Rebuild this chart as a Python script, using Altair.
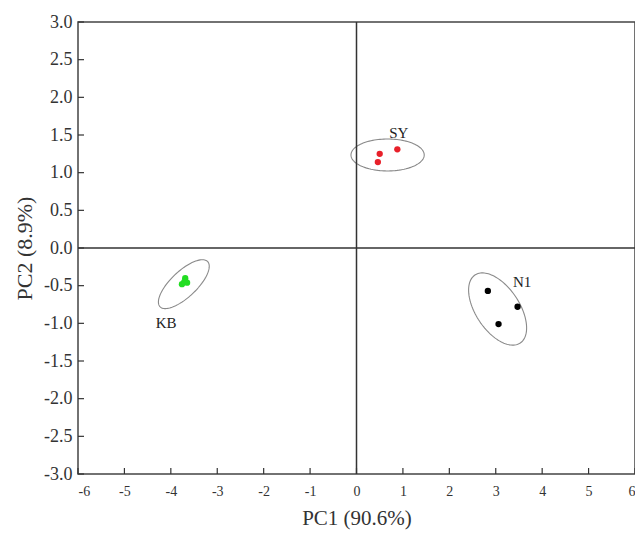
import altair as alt
import pandas as pd
import numpy as np

# sample scores
groups = ["SY", "SY", "SY", "KB", "KB", "KB", "KB", "N1", "N1", "N1"]
pc1 = [0.50, 0.46, 0.88, -3.69, -3.76, -3.65, -3.71, 2.83, 3.47, 3.06]
pc2 = [1.25, 1.14, 1.31, -0.40, -0.48, -0.46, -0.45, -0.57, -0.78, -1.01]

# group labels
label_text = ["SY", "KB", "N1"]
label_x = [0.91, -4.10, 3.57]
label_y = [1.53, -1.00, -0.45]

# confidence ellipses: centre and conjugate half-axis vectors (data units)
ell_group = ["SY", "KB", "N1"]
ell_cx = [0.67, -3.72, 3.04]
ell_cy = [1.235, -0.48, -0.81]
ell_ux = [0.789, 0.514, 0.489]
ell_uy = [0.0, 0.299, -0.451]
ell_vx = [0.0, -0.189, 0.389]
ell_vy = [0.212, 0.126, 0.163]

x_ticks = [-6, -5, -4, -3, -2, -1, 0, 1, 2, 3, 4, 5, 6]
y_ticks = [-3.0, -2.5, -2.0, -1.5, -1.0, -0.5, 0.0, 0.5, 1.0, 1.5, 2.0, 2.5, 3.0]

colors = {"SY": "#e8202a", "KB": "#22dd22", "N1": "#000000"}

pts = pd.DataFrame({"g": groups, "x": pc1, "y": pc2})
labs = pd.DataFrame({"t": label_text, "x": label_x, "y": label_y})

rows = []
phis = np.linspace(0, 2 * np.pi, 121)
for g, cx, cy, ux, uy, vx, vy in zip(ell_group, ell_cx, ell_cy, ell_ux, ell_uy, ell_vx, ell_vy):
    for i, p in enumerate(phis):
        rows.append({"g": g, "i": i,
                     "x": cx + np.cos(p) * ux + np.sin(p) * vx,
                     "y": cy + np.cos(p) * uy + np.sin(p) * vy})
ell = pd.DataFrame(rows)

FONT = "Liberation Serif"
xs = alt.Scale(domain=[-6, 6], nice=False, zero=False)
ys = alt.Scale(domain=[-3, 3], nice=False, zero=False)

W, H = 557, 452

fix_minus = "replace(datum.label, '\u2212', '-')"

x_axis = alt.Axis(title="PC1 (90.6%)", values=x_ticks, format="d", ticks=False,
                  domain=False, grid=False, labelPadding=10, labelFontSize=14,
                  labelFont=FONT, labelColor="#333", labelOverlap=False,
                  labelExpr=fix_minus, titleFont=FONT,
                  titleFontSize=21, titleFontWeight="normal", titleColor="#333",
                  titlePadding=9)
y_axis = alt.Axis(title="PC2 (8.9%)", values=y_ticks, format=".1f", ticks=False,
                  domain=False, grid=False, labelPadding=6, labelFontSize=18,
                  labelFont=FONT, labelColor="#333", labelOverlap=False,
                  labelExpr=fix_minus, titleFont=FONT,
                  titleFontSize=22, titleFontWeight="normal", titleColor="#333",
                  titlePadding=7)


def X(field="x"):
    return alt.X(f"{field}:Q", scale=xs, axis=x_axis)


def Y(field="y"):
    return alt.Y(f"{field}:Q", scale=ys, axis=y_axis)


ellipses = alt.Chart(ell).mark_line(color="#8a8a8a", strokeWidth=1.1).encode(
    x=X(), y=Y(), detail="g:N", order="i:Q")

zero_v = alt.Chart(pd.DataFrame({"x": [0]})).mark_rule(color="#333", strokeWidth=1.5).encode(
    x=X(), y=alt.value(0), y2=alt.value(H))
zero_h = alt.Chart(pd.DataFrame({"y": [0]})).mark_rule(color="#333", strokeWidth=1.5).encode(
    y=Y(), x=alt.value(0), x2=alt.value(W))

xt = alt.Chart(pd.DataFrame({"x": x_ticks})).mark_rule(color="#333", strokeWidth=1.2).encode(
    x=X(), y=alt.value(H), y2=alt.value(H - 6))
yt = alt.Chart(pd.DataFrame({"y": y_ticks})).mark_rule(color="#333", strokeWidth=1.2).encode(
    y=Y(), x=alt.value(0), x2=alt.value(6))

points = alt.Chart(pts).mark_circle(size=40, opacity=1).encode(
    x=X(), y=Y(),
    color=alt.Color("g:N", scale=alt.Scale(domain=list(colors.keys()), range=list(colors.values())),
                    legend=None))

labels = alt.Chart(labs).mark_text(font=FONT, fontSize=15, color="#222").encode(
    x=X(), y=Y(), text="t:N")

chart = alt.layer(ellipses, zero_v, zero_h, xt, yt, points, labels).properties(
    width=W, height=H,
    autosize=alt.AutoSizeParams(type="none"),
    padding={"left": 70, "top": 14, "right": 0, "bottom": 57},
    background="white",
).configure_view(stroke="#444", strokeWidth=1.5)

chart.save("out.html", embed_options={"renderer": "svg", "actions": False})
